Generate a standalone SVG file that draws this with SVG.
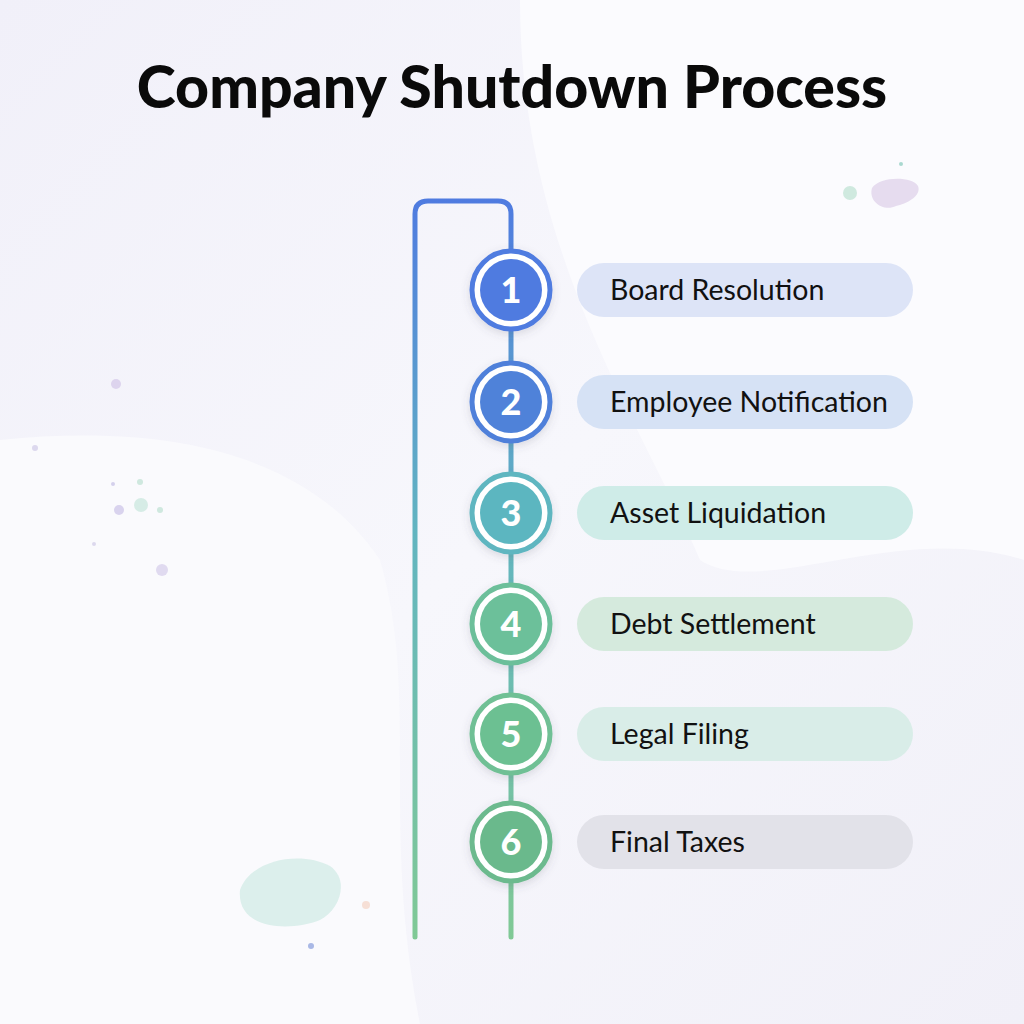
<svg xmlns="http://www.w3.org/2000/svg" width="1024" height="1024" viewBox="0 0 1024 1024">
<defs>
<linearGradient id="bg" x1="0" y1="0" x2="1" y2="1">
<stop offset="0" stop-color="#f1f0f9"/><stop offset="0.5" stop-color="#f7f7fc"/><stop offset="1" stop-color="#f1f0f8"/>
</linearGradient>
<linearGradient id="line" x1="0" y1="200" x2="0" y2="940" gradientUnits="userSpaceOnUse">
<stop offset="0" stop-color="#4f7be0"/><stop offset="0.45" stop-color="#62b5c0"/><stop offset="1" stop-color="#80c995"/>
</linearGradient>
<filter id="sh" x="-30%" y="-30%" width="160%" height="160%"><feDropShadow dx="0" dy="3" stdDeviation="4" flood-color="#556" flood-opacity="0.18"/></filter>
<style>
.lbl{font-family:Lato,"Noto Sans",sans-serif;font-size:28.5px;fill:#111;}
.num{font-family:Lato,"Noto Sans",sans-serif;font-size:36px;font-weight:900;fill:#fff;text-anchor:middle;}
.ttl{font-family:Lato,"Noto Sans",sans-serif;font-size:59px;font-weight:900;fill:#0a0a0a;text-anchor:middle;}
</style>
</defs>
<rect width="1024" height="1024" fill="url(#bg)"/>
<path d="M520 0 H1024 V560 C900 520 760 600 700 560 C640 420 520 250 520 0 Z" fill="#fbfbfe"/>
<path d="M0 440 C200 420 320 470 380 560 C420 700 380 820 420 1024 H0 Z" fill="#fafafd"/>
<g id="decor">
<circle cx="850" cy="193" r="7" fill="#cfe9df"/>
<circle cx="901" cy="164" r="2" fill="#a9d8d0"/>
<path d="M872 188 C880 176 912 176 918 186 C922 196 906 204 896 206 C884 212 868 202 872 188 Z" fill="#e6dcef"/>
<circle cx="116" cy="384" r="5" fill="#ddd4ee"/>
<circle cx="35" cy="448" r="3" fill="#dcd8ee"/>
<circle cx="141" cy="505" r="7" fill="#d6ece6"/>
<circle cx="119" cy="510" r="5" fill="#d9d3ee"/>
<circle cx="113" cy="484" r="2" fill="#d4d0ec"/>
<circle cx="140" cy="482" r="3" fill="#cfe8df"/>
<circle cx="160" cy="510" r="3" fill="#cfe8df"/>
<circle cx="162" cy="570" r="6" fill="#e0daf0"/>
<circle cx="94" cy="544" r="2" fill="#dcd8ee"/>
<path d="M240 890 C250 860 300 850 330 866 C350 880 340 910 320 920 C290 932 236 930 240 890 Z" fill="#dcefec"/>
<circle cx="366" cy="905" r="4" fill="#f6dfd6"/>
<circle cx="311" cy="946" r="3" fill="#a9b8e6"/>
</g>
<text class="ttl" x="512" y="108">Company Shutdown Process</text>
<g id="connectors" fill="none" stroke="url(#line)" stroke-width="5" stroke-linecap="round">
<path d="M415 937 V214 Q415 201 428 201 H498 Q511 201 511 214 V937"/>
</g>
<g id="step1">
<rect x="577" y="263" width="336" height="54" rx="27" fill="#dde4f7"/>
<circle cx="511" cy="290" r="39" fill="#ffffff" stroke="#4f7be0" stroke-width="5" filter="url(#sh)"/>
<circle cx="511" cy="290" r="31" fill="#4f7be0"/>
<text class="num" x="511" y="303">1</text>
<text class="lbl" x="610" y="300">Board Resolution</text>
</g>
<g id="step2">
<rect x="577" y="375" width="336" height="54" rx="27" fill="#d6e2f5"/>
<circle cx="511" cy="402" r="39" fill="#ffffff" stroke="#4f80da" stroke-width="5" filter="url(#sh)"/>
<circle cx="511" cy="402" r="31" fill="#4f82d9"/>
<text class="num" x="511" y="415">2</text>
<text class="lbl" x="610" y="412">Employee Notification</text>
</g>
<g id="step3">
<rect x="577" y="486" width="336" height="54" rx="27" fill="#cfece8"/>
<circle cx="511" cy="513" r="39" fill="#ffffff" stroke="#5fb6c0" stroke-width="5" filter="url(#sh)"/>
<circle cx="511" cy="513" r="31" fill="#5cb6c0"/>
<text class="num" x="511" y="526">3</text>
<text class="lbl" x="610" y="523">Asset Liquidation</text>
</g>
<g id="step4">
<rect x="577" y="597" width="336" height="54" rx="27" fill="#d5eadd"/>
<circle cx="511" cy="624" r="39" fill="#ffffff" stroke="#6cbf9a" stroke-width="5" filter="url(#sh)"/>
<circle cx="511" cy="624" r="31" fill="#6cc09a"/>
<text class="num" x="511" y="637">4</text>
<text class="lbl" x="610" y="634">Debt Settlement</text>
</g>
<g id="step5">
<rect x="577" y="707" width="336" height="54" rx="27" fill="#d9ede8"/>
<circle cx="511" cy="734" r="39" fill="#ffffff" stroke="#70c095" stroke-width="5" filter="url(#sh)"/>
<circle cx="511" cy="734" r="31" fill="#6cc092"/>
<text class="num" x="511" y="747">5</text>
<text class="lbl" x="610" y="744">Legal Filing</text>
</g>
<g id="step6">
<rect x="577" y="815" width="336" height="54" rx="27" fill="#e2e2e9"/>
<circle cx="511" cy="842" r="39" fill="#ffffff" stroke="#6cba8e" stroke-width="5" filter="url(#sh)"/>
<circle cx="511" cy="842" r="31" fill="#6ab98c"/>
<text class="num" x="511" y="855">6</text>
<text class="lbl" x="610" y="852">Final Taxes</text>
</g>
</svg>
